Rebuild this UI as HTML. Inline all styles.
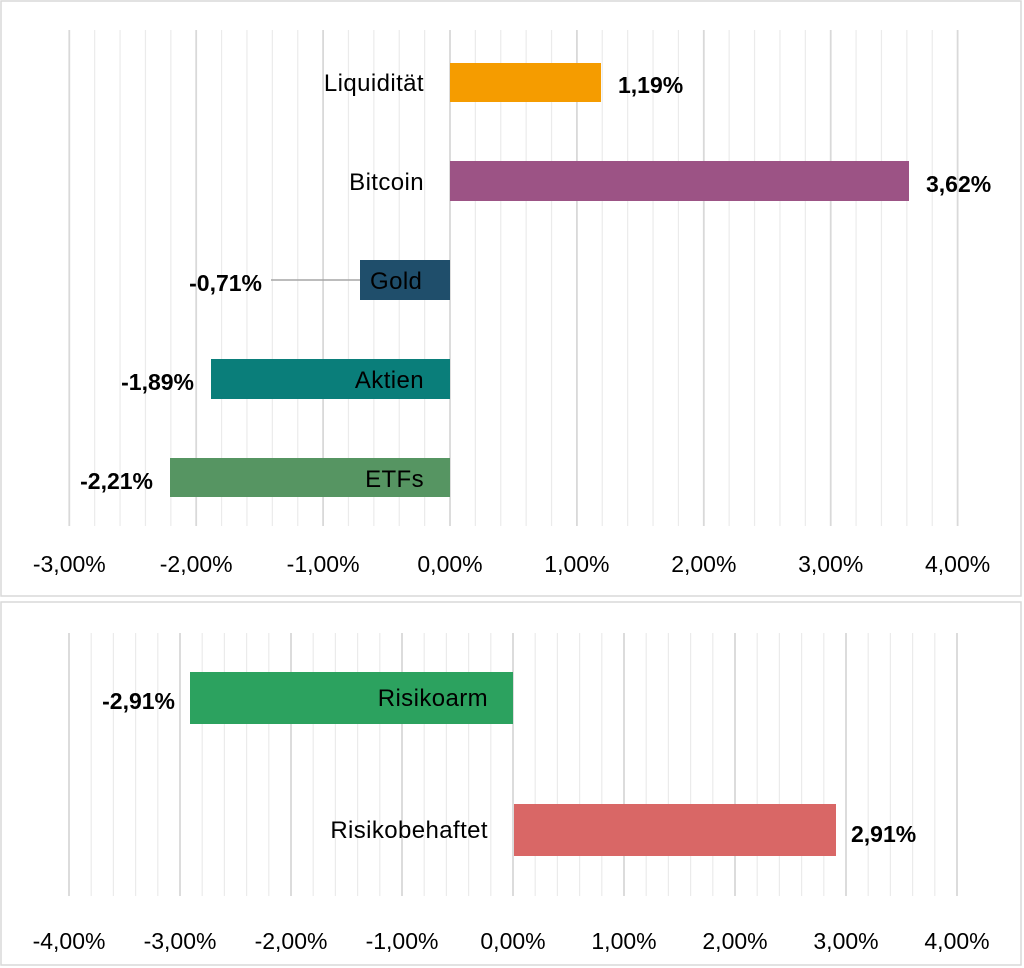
<!DOCTYPE html><html><head><style>body{margin:0;background:#fff}svg{display:block;font-family:"Liberation Sans",sans-serif}</style></head><body>
<svg id="s" width="1024" height="968" xmlns="http://www.w3.org/2000/svg">
<rect x="1" y="1" width="1020" height="595" fill="#fff" stroke="#d9d9d9" stroke-width="1.5"/>
<rect x="1" y="602" width="1020" height="363" fill="#fff" stroke="#d9d9d9" stroke-width="1.5"/>
<g id="g"></g>
<g font-size="23" fill="#000">
<rect x="450" y="63" width="151" height="39" fill="#f59c00"/>
<rect x="450" y="161" width="459" height="40" fill="#9c5385"/>
<line x1="271" y1="280" x2="360" y2="280" stroke="#a6a6a6" stroke-width="1.5"/>
<rect x="360" y="260" width="90" height="40" fill="#1f4e6b"/>
<rect x="211" y="359" width="239" height="40" fill="#0a7e7a"/>
<rect x="170" y="458" width="280" height="39" fill="#569562"/>
<rect x="190" y="672" width="323" height="52" fill="#2ca25f"/>
<rect x="514" y="804" width="322" height="52" fill="#d96766"/>
<g font-size="24" letter-spacing="0.4">
<text x="424" y="91" text-anchor="end">Liquidität</text>
<text x="424" y="190" text-anchor="end">Bitcoin</text>
<text x="370" y="289">Gold</text>
<text x="424" y="388" text-anchor="end">Aktien</text>
<text x="424" y="487" text-anchor="end">ETFs</text>
<text x="488" y="706" text-anchor="end">Risikoarm</text>
<text x="488" y="838" text-anchor="end">Risikobehaftet</text>
</g>
<g font-weight="bold" font-size="23">
<text x="618" y="93">1,19%</text>
<text x="926" y="192">3,62%</text>
<text x="262" y="291" text-anchor="end">-0,71%</text>
<text x="194" y="390" text-anchor="end">-1,89%</text>
<text x="153" y="489" text-anchor="end">-2,21%</text>
<text x="851" y="842">2,91%</text>
<text x="175" y="709" text-anchor="end">-2,91%</text>
</g>
</g>
<g font-size="23" fill="#000" text-anchor="middle" id="t"></g>
</svg>
<script>
var g=document.getElementById('g'),t=document.getElementById('t'),ns='http://www.w3.org/2000/svg';
function L(x,y1,y2,c){var l=document.createElementNS(ns,'line');l.setAttribute('x1',x);l.setAttribute('x2',x);l.setAttribute('y1',y1);l.setAttribute('y2',y2);l.setAttribute('stroke',c);l.setAttribute('stroke-width',c=='#d9d9d9'?1.8:1.2);g.appendChild(l);}
function T(x,y,s){var e=document.createElementNS(ns,'text');e.setAttribute('x',x);e.setAttribute('y',y);e.textContent=s;t.appendChild(e);}
for(var i=-15;i<=20;i++){var v=i/5,x=450+126.9*v;L(x,30,526,i%5==0?'#d9d9d9':'#ebebeb');}
for(var i=-3;i<=4;i++)T(450+126.9*i,572,(i<0?'-':'')+Math.abs(i)+',00%');
for(var i=-20;i<=20;i++){var v=i/5,x=513+111*v;L(x,633,896,i%5==0?'#d9d9d9':'#ebebeb');}
for(var i=-4;i<=4;i++)T(513+111*i,949,(i<0?'-':'')+Math.abs(i)+',00%');
</script>
</body></html>
